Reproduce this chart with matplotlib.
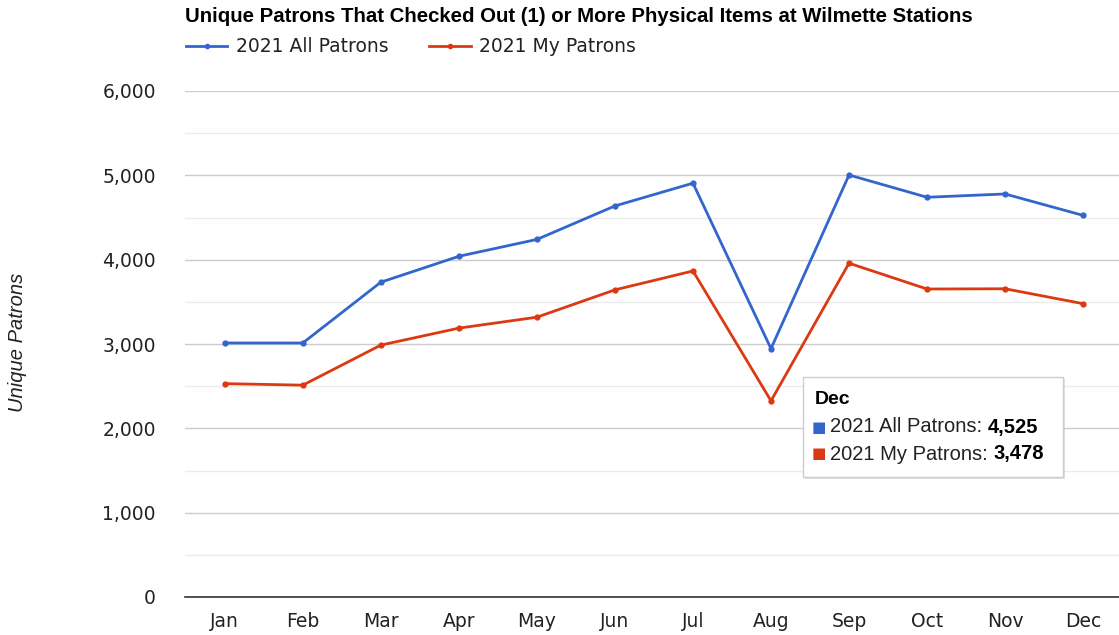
import matplotlib.pyplot as plt
from matplotlib.lines import Line2D
from matplotlib.patches import FancyBboxPatch
from matplotlib.ticker import MultipleLocator, FuncFormatter

months = ['Jan', 'Feb', 'Mar', 'Apr', 'May', 'Jun', 'Jul', 'Aug', 'Sep', 'Oct', 'Nov', 'Dec']
all_patrons = [3012, 3012, 3733, 4040, 4240, 4637, 4907, 2945, 5004, 4740, 4779, 4525]
my_patrons = [2530, 2512, 2987, 3188, 3318, 3642, 3866, 2326, 3958, 3652, 3655, 3478]
series_names = ['2021 All Patrons', '2021 My Patrons']
blue = '#3366cc'
red = '#dc3912'

W, H = 1119, 635
fig = plt.figure(figsize=(W / 100, H / 100), dpi=100)
ax = fig.add_axes([185 / W, 1 - 597 / H, (W - 185) / W, (597 - 91) / H])

x = list(range(len(months)))
ax.plot(x, all_patrons, color=blue, lw=2, marker='o', ms=3.5, zorder=3)
ax.plot(x, my_patrons, color=red, lw=2, marker='o', ms=3.5, zorder=3)

ax.set_xlim(-0.51, 11.46)
ax.set_ylim(0, 6000)
ax.yaxis.set_major_locator(MultipleLocator(1000))
ax.yaxis.set_minor_locator(MultipleLocator(500))
ax.yaxis.set_major_formatter(FuncFormatter(lambda v, p: f'{int(v):,}'))
ax.grid(axis='y', which='major', color='#cccccc', lw=1)
ax.grid(axis='y', which='minor', color='#ebebeb', lw=1)
ax.set_axisbelow(True)
for s in ['top', 'right', 'left']:
    ax.spines[s].set_visible(False)
ax.spines['bottom'].set_color('#333333')
ax.spines['bottom'].set_linewidth(1.2)
ax.set_xticks(x)
ax.set_xticklabels(months)
ax.tick_params(axis='both', which='both', length=0, labelsize=13.5, colors='#222222')
ax.tick_params(axis='y', pad=21)
ax.tick_params(axis='x', pad=11)

fig.text(18 / W, 1 - 342 / H, 'Unique Patrons', rotation=90, ha='center', va='center',
         fontsize=14.5, style='italic', color='#222222', family='Liberation Sans')

fig.text(185 / W, 1 - 16 / H, 'Unique Patrons That Checked Out (1) or More Physical Items at Wilmette Stations',
         ha='left', va='center', fontsize=14.7, weight='bold', family='Liberation Sans', color='#000000')

handles = [Line2D([], [], color=blue, lw=2, marker='o', ms=3),
           Line2D([], [], color=red, lw=2, marker='o', ms=3)]
fig.legend(handles, series_names, loc='center left', bbox_to_anchor=(169 / W, 1 - 47 / H),
           ncol=2, frameon=False, fontsize=13.5, handlelength=2.2, handletextpad=0.45,
           columnspacing=2.2, labelcolor='#222222')

# tooltip for Dec
shadow = FancyBboxPatch((805 / W, 1 - 479 / H), 260 / W, 100 / H,
                        boxstyle='square,pad=0', transform=fig.transFigure,
                        facecolor='#d0d0d0', edgecolor='none', zorder=9, alpha=0.6)
box = FancyBboxPatch((803 / W, 1 - 477 / H), 260 / W, 100 / H,
                     boxstyle='square,pad=0', transform=fig.transFigure,
                     facecolor='white', edgecolor='#cccccc', lw=1, zorder=10)
fig.patches.extend([shadow, box])
fig.text(815 / W, 1 - 400 / H, months[-1], fontsize=14, weight='bold',
         family='Liberation Sans', va='center', zorder=11)

renderer = fig.canvas.get_renderer()
vals = [all_patrons[-1], my_patrons[-1]]
for i, (nm, c, v) in enumerate(zip(series_names, [blue, red], vals)):
    yy = 1 - (427 + 27 * i) / H
    fig.text(812 / W, yy, '\u25a0', color=c, fontsize=11, va='center', family='DejaVu Sans', zorder=11)
    t = fig.text(830 / W, yy, nm + ':', fontsize=14.5, va='center', family='Liberation Sans',
                 color='#222222', zorder=11)
    bb = t.get_window_extent(renderer)
    fig.text((bb.x1 + 6) / W, yy, f'{v:,}', fontsize=14.5, weight='bold', va='center',
             family='Liberation Sans', zorder=11)

fig.savefig('out.png', dpi=100)
